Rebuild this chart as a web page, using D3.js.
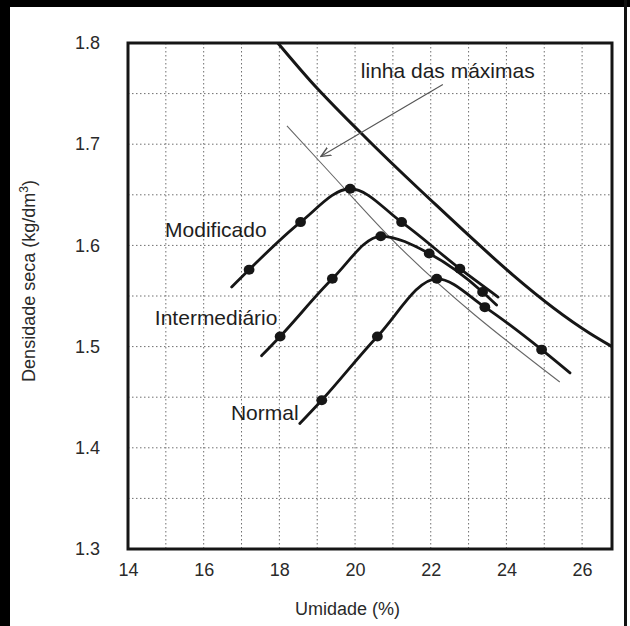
<!DOCTYPE html>
<html>
<head>
<meta charset="utf-8">
<script src="https://cdn.jsdelivr.net/npm/d3@7"></script>
<style>
  html, body { margin: 0; padding: 0; background: #fff; }
  svg { display: block; font-family: "Liberation Sans", Arial, sans-serif; }
</style>
</head>
<body>
<svg id="chart" width="630" height="626"></svg>
<script>
// Compaction curves (Proctor)
// each vertex: [umidade %, densidade kg/dm3, isMeasuredPoint]
const modificado = [
    [16.74, 1.559, 0], [17.20, 1.576, 1], [18.56, 1.623, 1], [19.87, 1.656, 1],
    [21.23, 1.623, 1], [22.77, 1.577, 1], [23.78, 1.549, 0]
];
const intermediario = [
    [17.53, 1.491, 0], [18.02, 1.510, 1], [19.40, 1.567, 1], [20.68, 1.609, 1],
    [21.96, 1.592, 1], [23.37, 1.554, 1], [23.74, 1.541, 0]
];
const normal = [
    [18.54, 1.424, 0], [19.12, 1.447, 1], [20.59, 1.510, 1], [22.16, 1.567, 1],
    [23.43, 1.539, 1], [24.93, 1.497, 1], [25.68, 1.474, 0]
];
// saturation curve (thick) and "linha das máximas" (thin)
const saturacao = [
    [17.96, 1.800], [18.81, 1.763], [20.13, 1.712], [21.71, 1.655], [26.21, 1.513], [26.79, 1.500]
];
const linhaMaximas = [
    [18.20, 1.718], [19.26, 1.675], [20.92, 1.608], [25.41, 1.465]
];
const xTicks = [14, 16, 18, 20, 22, 24, 26];
const yTicks = [1.3, 1.4, 1.5, 1.6, 1.7, 1.8];
const xGrid = [15, 16, 17, 18, 19, 20, 21, 22, 23, 24, 25, 26];
const yGrid = [1.35, 1.4, 1.45, 1.5, 1.55, 1.6, 1.65, 1.7, 1.75];

(function() {
    const svg = d3.select('#chart');
    const margin = { top: 43, left: 128, right: 18, bottom: 77 };
    const width = 630, height = 626;
    const plotWidth = width - margin.left - margin.right;
    const plotHeight = height - margin.top - margin.bottom;
    const ink = '#161616';

    // scanned page frame
    svg.append('rect').attr('x', 0).attr('y', 0).attr('width', width).attr('height', 7).attr('fill', '#000');
    svg.append('rect').attr('x', 0).attr('y', 0).attr('width', 10).attr('height', height).attr('fill', '#000');
    svg.append('rect').attr('x', 624).attr('y', 0).attr('width', 3).attr('height', height).attr('fill', '#111');

    const g = svg.append('g')
        .attr('transform', `translate(${margin.left}, ${margin.top})`);

    const xScale = d3.scaleLinear().domain([14, 26.79]).range([0, plotWidth]);
    const yScale = d3.scaleLinear().domain([1.3, 1.8]).range([plotHeight, 0]);

    // dotted grid
    g.append('g').selectAll('line').data(xGrid).join('line')
        .attr('x1', d => xScale(d)).attr('x2', d => xScale(d))
        .attr('y1', 0).attr('y2', plotHeight)
        .attr('stroke', '#6f6f6f').attr('stroke-width', 1).attr('stroke-dasharray', '1.5,2.5');
    g.append('g').selectAll('line').data(yGrid).join('line')
        .attr('y1', d => yScale(d)).attr('y2', d => yScale(d))
        .attr('x1', 0).attr('x2', plotWidth)
        .attr('stroke', '#6f6f6f').attr('stroke-width', 1).attr('stroke-dasharray', '1.5,2.5');

    // axes (labels only, the frame is drawn below)
    const xAxis = g.append('g')
        .attr('transform', `translate(0, ${plotHeight})`)
        .call(d3.axisBottom(xScale).tickValues(xTicks).tickSize(0).tickPadding(14));
    const yAxis = g.append('g')
        .call(d3.axisLeft(yScale).tickValues(yTicks).tickFormat(d3.format('.1f')).tickSize(0).tickPadding(28));
    [xAxis, yAxis].forEach(a => {
        a.select('.domain').remove();
        a.selectAll('text')
            .attr('font-size', '18px')
            .attr('fill', '#2a2a2a')
            .attr('font-family', '"Liberation Sans", Arial, sans-serif');
    });

    g.append('text')
        .attr('x', xScale(19.8))
        .attr('y', plotHeight + 66)
        .attr('text-anchor', 'middle')
        .attr('font-size', '18px')
        .attr('fill', '#2a2a2a')
        .text('Umidade (%)');

    g.append('text')
        .attr('transform', 'rotate(-90)')
        .attr('x', -(281 - margin.top))
        .attr('y', -margin.left + 35)
        .attr('text-anchor', 'middle')
        .attr('font-size', '18px')
        .attr('fill', '#2a2a2a')
        .html('Densidade seca (kg/dm<tspan baseline-shift="super" font-size="12px">3</tspan>)');

    const line = d3.line()
        .x(d => xScale(d[0]))
        .y(d => yScale(d[1]))
        .curve(d3.curveMonotoneX);

    // thin line through the maxima
    g.append('path')
        .datum(linhaMaximas)
        .attr('fill', 'none')
        .attr('stroke', '#666')
        .attr('stroke-width', 1.1)
        .attr('d', line);

    // saturation curve
    g.append('path')
        .datum(saturacao)
        .attr('fill', 'none')
        .attr('stroke', ink)
        .attr('stroke-width', 3)
        .attr('d', line);

    // compaction curves with their points
    [modificado, intermediario, normal].forEach(curve => {
        g.append('path')
            .datum(curve)
            .attr('fill', 'none')
            .attr('stroke', ink)
            .attr('stroke-width', 2.8)
            .attr('stroke-linecap', 'round')
            .attr('d', line);

        g.append('g').selectAll('ellipse')
            .data(curve.filter(d => d[2]))
            .join('ellipse')
            .attr('cx', d => xScale(d[0]))
            .attr('cy', d => yScale(d[1]))
            .attr('rx', 5.4)
            .attr('ry', 5)
            .attr('fill', ink);
    });

    // curve labels
    const labels = [
        { text: 'Modificado', x: 14.98, y: 1.608 },
        { text: 'Intermediário', x: 14.71, y: 1.521 },
        { text: 'Normal', x: 16.72, y: 1.427 }
    ];
    labels.forEach(l => {
        g.append('text')
            .attr('x', xScale(l.x))
            .attr('y', yScale(l.y))
            .attr('font-size', '21px')
            .attr('fill', '#1e1e1e')
            .text(l.text);
    });

    // annotation with open arrow head
    svg.append('defs').append('marker')
        .attr('id', 'arrow')
        .attr('viewBox', '0 0 10 10')
        .attr('refX', 9).attr('refY', 5)
        .attr('markerWidth', 11).attr('markerHeight', 11)
        .attr('markerUnits', 'userSpaceOnUse')
        .attr('orient', 'auto')
        .append('path')
        .attr('d', 'M0,1 L9,5 L0,9')
        .attr('fill', 'none')
        .attr('stroke', '#555')
        .attr('stroke-width', 1.3);

    g.append('line')
        .attr('x1', xScale(22.32)).attr('y1', yScale(1.759))
        .attr('x2', xScale(19.10)).attr('y2', yScale(1.688))
        .attr('stroke', '#555')
        .attr('stroke-width', 1.1)
        .attr('marker-end', 'url(#arrow)');

    g.append('text')
        .attr('x', xScale(22.45))
        .attr('y', yScale(1.765))
        .attr('text-anchor', 'middle')
        .attr('font-size', '21px')
        .attr('fill', '#1e1e1e')
        .text('linha das máximas');

    // plot frame
    g.append('rect')
        .attr('width', plotWidth)
        .attr('height', plotHeight)
        .attr('fill', 'none')
        .attr('stroke', ink)
        .attr('stroke-width', 3);
})();
</script>
</body>
</html>
